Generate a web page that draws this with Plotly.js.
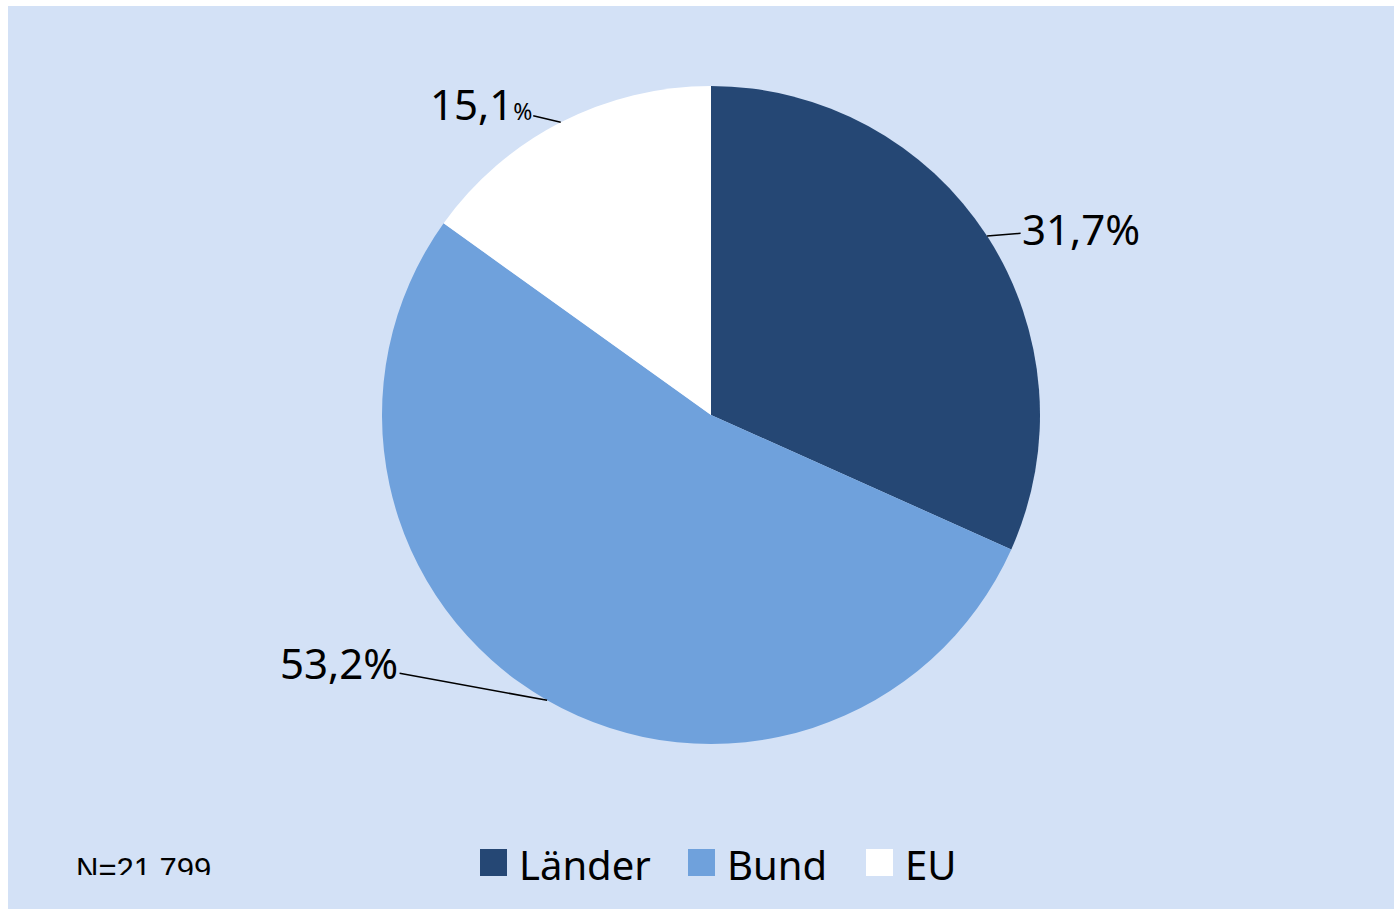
<!DOCTYPE html>
<html>
<head>
<meta charset="utf-8">
<script src="https://cdn.plot.ly/plotly-3.0.1.min.js"></script>
<style>
  html, body { margin: 0; padding: 0; background: #ffffff; width: 1394px; height: 909px; overflow: hidden; }
  #chart { position: absolute; left: 8px; top: 6px; width: 1386px; height: 903px; }
  #clip { position: absolute; left: 66px; top: 875px; width: 160px; height: 20px; background: #D3E1F6; }
</style>
</head>
<body>
<div id="chart"></div>
<div id="clip"></div>
<script>
// ---- data ----
const labels = ['Länder', 'Bund', 'EU'];
const values = [31.7, 53.2, 15.1];
const colors = ['#254774', '#6FA1DC', '#FFFFFF'];
const noteText = 'N=21.799';

// ---- layout geometry ----
const W = 1386, H = 903;
const cx = 703, cy = 409, r = 329;   // pie centre / radius in div pixels (from top-left)
const bg = '#D3E1F6';

const domX = [(cx - r) / W, (cx + r) / W];
const domY = [(H - cy - r) / H, (H - cy + r) / H];

const trace = {
  type: 'pie',
  labels: labels,
  values: values,
  sort: false,
  direction: 'clockwise',
  rotation: 0,
  textinfo: 'none',
  hoverinfo: 'none',
  marker: { colors: colors, line: { width: 0 } },
  domain: { x: domX, y: domY },
  showlegend: false
};

// label offsets in px (ax, ay) and percent-sign sizes
const offsets = [[94, -8], [-208, -38], [-80, -19]];
const pctSize = [42, 42, 23];

const total = values.reduce((a, b) => a + b, 0);
let cum = 0;
const annotations = [];
values.forEach((v, i) => {
  const mid = (cum + v / 2) / total * 2 * Math.PI;
  cum += v;
  const px = cx + r * Math.sin(mid);
  const pyTop = cy - r * Math.cos(mid);
  const num = v.toFixed(1).replace('.', ',');
  const txt = pctSize[i] === 42 ? num + '%' : num + '<span style="font-size:' + pctSize[i] + 'px">%</span>';
  annotations.push({
    xref: 'paper', yref: 'paper',
    x: px / W, y: (H - pyTop) / H,
    ax: offsets[i][0], ay: offsets[i][1],
    text: txt,
    showarrow: true, arrowhead: 0, arrowwidth: 1.5, arrowcolor: '#000000',
    standoff: 0, startstandoff: 0,
    font: { family: 'Noto Sans', size: 42, color: '#000000' }
  });
});

annotations.push({
  xref: 'paper', yref: 'paper',
  x: 66 / W, y: 40 / H, xanchor: 'left', yanchor: 'middle',
  text: noteText, showarrow: false,
  font: { family: 'Liberation Sans', size: 31, color: '#000000' }
});

// ---- manual legend (keys + labels) ----
const legendLeft = [472, 680, 858];   // key left edges in div px
const keySize = 27, keyTop = 843;      // div px from top
const shapes = [];
labels.forEach((lab, i) => {
  shapes.push({
    type: 'rect', xref: 'paper', yref: 'paper',
    x0: legendLeft[i] / W, x1: (legendLeft[i] + keySize) / W,
    y0: (H - keyTop - keySize) / H, y1: (H - keyTop) / H,
    fillcolor: colors[i], line: { width: 0 }
  });
  annotations.push({
    xref: 'paper', yref: 'paper',
    x: (legendLeft[i] + 37) / W, y: 45 / H,
    xanchor: 'left', yanchor: 'middle',
    text: lab, showarrow: false,
    font: { family: 'Noto Sans', size: 40, color: '#000000' }
  });
});

const layout = {
  width: W, height: H,
  margin: { l: 0, r: 0, t: 0, b: 0 },
  paper_bgcolor: bg,
  plot_bgcolor: bg,
  showlegend: false,
  annotations: annotations,
  shapes: shapes
};

Plotly.newPlot('chart', [trace], layout, { displayModeBar: false, staticPlot: true });
</script>
</body>
</html>
